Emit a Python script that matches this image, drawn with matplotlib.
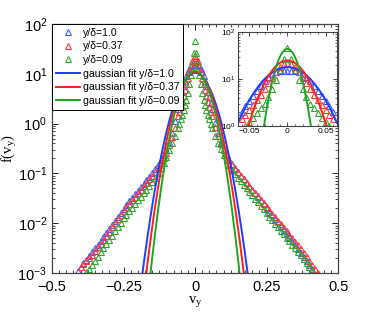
import numpy as np
import matplotlib
matplotlib.use("Agg")
import matplotlib.pyplot as plt
from matplotlib.ticker import FixedLocator, MultipleLocator, LogLocator, NullFormatter, FuncFormatter

plt.rcParams['font.family'] = ['Liberation Sans', 'DejaVu Sans']
plt.rcParams['mathtext.fontset'] = 'custom'
plt.rcParams['mathtext.rm'] = 'Liberation Serif'
plt.rcParams['mathtext.it'] = 'Liberation Serif:italic'

nan = np.nan

# bin centres of v_y
V = [-0.42, -0.41, -0.40, -0.39, -0.38, -0.37, -0.36, -0.35, -0.34, -0.33,
     -0.32, -0.31, -0.30, -0.29, -0.28, -0.27, -0.26, -0.25, -0.24, -0.23,
     -0.22, -0.21, -0.20, -0.19, -0.18, -0.17, -0.16, -0.15, -0.14, -0.13,
     -0.12, -0.11, -0.10, -0.09, -0.08, -0.07,
     -0.06, -0.055, -0.05, -0.045, -0.04, -0.035, -0.03, -0.025, -0.02, -0.015,
     -0.01, -0.005, 0.0, 0.005, 0.01, 0.015, 0.02, 0.025, 0.03, 0.035,
     0.04, 0.045, 0.05, 0.055, 0.06,
     0.07, 0.08, 0.09, 0.10, 0.11, 0.12, 0.13, 0.14, 0.15, 0.16,
     0.17, 0.18, 0.19, 0.20, 0.21, 0.22, 0.23, 0.24, 0.25, 0.26,
     0.27, 0.28, 0.29, 0.30, 0.31, 0.32, 0.33, 0.34, 0.35, 0.36,
     0.37, 0.38, 0.39, 0.40, 0.41, 0.42, 0.43]

# log10 f(v_y)
LOG_F_10 = [nan, -2.95, -2.88, -2.80, -2.74, -2.66, -2.58, -2.50, -2.43, -2.36,
            -2.27, -2.20, -2.12, -2.03, -1.95, -1.87, -1.79, -1.71, -1.63, -1.56,
            -1.49, -1.42, -1.35, -1.28, -1.21, -1.14, -1.07, -1.00, -0.92, -0.83,
            -0.74, -0.64, -0.52, -0.36, -0.18, 0.05,
            0.30, 0.42, 0.53, 0.64, 0.75, 0.86, 0.96, 1.04, 1.10, 1.15,
            1.17, 1.18, 1.18, 1.18, 1.17, 1.15, 1.10, 1.04, 0.96, 0.86,
            0.75, 0.64, 0.53, 0.42, 0.30,
            0.02, -0.18, -0.36, -0.51, -0.63, -0.73, -0.82, -0.90, -0.98, -1.05,
            -1.12, -1.19, -1.26, -1.33, -1.40, -1.47, -1.54, -1.62, -1.70, -1.77,
            -1.84, -1.91, -1.98, -2.05, -2.13, -2.20, -2.28, -2.36, -2.44, -2.52,
            -2.60, -2.68, -2.76, -2.84, -2.92, nan, nan]

LOG_F_037 = [nan, nan, -2.88, -2.82, -2.76, -2.70, -2.63, -2.55, -2.48, -2.41,
             -2.33, -2.25, -2.17, -2.08, -2.00, -1.92, -1.84, -1.76, -1.68, -1.61,
             -1.54, -1.47, -1.40, -1.33, -1.26, -1.19, -1.12, -1.05, -0.97, -0.88,
             -0.79, -0.69, -0.58, -0.43, -0.26, -0.08,
             0.15, 0.24, 0.34, 0.44, 0.55, 0.67, 0.80, 0.92, 1.03, 1.15,
             1.25, 1.32, 1.35, 1.32, 1.25, 1.15, 1.03, 0.92, 0.80, 0.67,
             0.55, 0.44, 0.34, 0.24, 0.15,
             -0.06, -0.24, -0.40, -0.53, -0.64, -0.74, -0.83, -0.91, -0.98, -1.05,
             -1.12, -1.19, -1.26, -1.33, -1.40, -1.46, -1.53, -1.60, -1.67, -1.74,
             -1.81, -1.88, -1.95, -2.02, -2.09, -2.16, -2.23, -2.30, -2.37, -2.44,
             -2.52, -2.60, -2.68, -2.76, -2.84, -2.92, -2.99]

LOG_F_009 = [nan, nan, nan, nan, -2.98, -2.92, -2.84, -2.75, -2.67, -2.58,
             -2.50, -2.42, -2.33, -2.25, -2.16, -2.07, -1.99, -1.90, -1.83, -1.76,
             -1.69, -1.61, -1.54, -1.47, -1.40, -1.33, -1.26, -1.18, -1.10, -1.00,
             -0.90, -0.79, -0.67, -0.53, -0.39, -0.24,
             -0.08, 0.00, 0.09, 0.18, 0.28, 0.38, 0.48, 0.62, 0.80, 0.98,
             1.20, 1.42, 1.66, 1.42, 1.20, 0.98, 0.80, 0.62, 0.48, 0.38,
             0.28, 0.18, 0.09, 0.00, -0.08,
             -0.24, -0.38, -0.51, -0.63, -0.74, -0.84, -0.93, -1.01, -1.09, -1.16,
             -1.23, -1.30, -1.37, -1.44, -1.51, -1.58, -1.65, -1.72, -1.80, -1.87,
             -1.94, -2.01, -2.08, -2.15, -2.22, -2.29, -2.36, -2.43, -2.50, -2.57,
             -2.64, -2.72, -2.80, -2.88, -2.96, nan, nan]

LABELS = ['y/\u03b4=1.0', 'y/\u03b4=0.37', 'y/\u03b4=0.09']
MARKER_COLORS = ['#3a5cff', '#ff3a3a', '#2fa82f']
LINE_COLORS = ['#1f3cff', '#ff1f1f', '#1fa51f']

# gaussian fits: amplitude, sigma
FIT_AMP = [10.5, 11.0, 11.5]
FIT_SIG = [0.0427, 0.0395, 0.036]
# core fits shown in the inset
FIT_AMP_IN = [18.0, 25.0, 44.0]
FIT_SIG_IN = [0.0278, 0.0202, 0.0112]

v = np.array(V)
series = [10 ** np.array(s) for s in (LOG_F_10, LOG_F_037, LOG_F_009)]
vfit = np.linspace(-0.5, 0.5, 1001)


def gauss(x, a, s):
    return a * np.exp(-x ** 2 / (2 * s ** 2))


def fmt(x, p):
    return ('%g' % x).replace('-', '\u2212')


fig = plt.figure(figsize=(3.74, 3.16), dpi=100)
ax = fig.add_axes([0.139, 0.136, 0.765, 0.788])

hm = []
for f, c, lab in zip(series, MARKER_COLORS, LABELS):
    h, = ax.plot(v, f, ls='none', marker='^', ms=4.5, mfc='none', mec=c, mew=0.8, label=lab)
    hm.append(h)
hl = []
for a, s, c, lab in zip(FIT_AMP, FIT_SIG, LINE_COLORS, LABELS):
    h, = ax.plot(vfit, gauss(vfit, a, s), color=c, lw=1.4, label='gaussian fit ' + lab)
    hl.append(h)

ax.set_yscale('log')
ax.set_xlim(-0.5, 0.5)
ax.set_ylim(1e-3, 1e2)
ax.xaxis.set_major_locator(FixedLocator([-0.5, -0.25, 0, 0.25, 0.5]))
ax.xaxis.set_major_formatter(FuncFormatter(fmt))
ax.xaxis.set_minor_locator(MultipleLocator(0.025))
ax.yaxis.set_minor_locator(LogLocator(base=10, subs=np.arange(2, 10), numticks=20))
ax.yaxis.set_minor_formatter(NullFormatter())
ax.tick_params(which='both', direction='in', top=True, right=True, labelsize=10.5)
ax.tick_params(which='major', length=4, width=0.6)
ax.tick_params(which='minor', length=2, width=0.5)
ax.tick_params(axis='x', which='major', pad=5)
for sp in ax.spines.values():
    sp.set_linewidth(0.9)
    sp.set_color('#444444')

ax.set_xlabel('v$_\\mathrm{y}$', fontfamily='Liberation Serif', fontsize=10.5, labelpad=0)
ax.set_ylabel('f(v$_\\mathrm{y}$)', fontfamily='Liberation Serif', fontsize=10.5)
ax.yaxis.set_label_coords(-0.115, 0.5)

leg = ax.legend(handles=hm + hl, loc='upper left', borderaxespad=0, fontsize=7.6,
                fancybox=False, edgecolor='black', framealpha=1, handlelength=2.3,
                handletextpad=0.3, labelspacing=0.35, borderpad=0.35)
leg.get_frame().set_linewidth(0.7)

# inset
axi = fig.add_axes([0.636, 0.601, 0.265, 0.297])
for f, c in zip(series, MARKER_COLORS):
    axi.plot(v, f, ls='none', marker='^', ms=4.5, mfc='none', mec=c, mew=0.8)
for a, s, c in zip(FIT_AMP_IN, FIT_SIG_IN, LINE_COLORS):
    axi.plot(vfit, gauss(vfit, a, s), color=c, lw=1.4)
axi.set_yscale('log')
axi.set_xlim(-0.065, 0.065)
axi.set_ylim(1, 1e2)
axi.xaxis.set_major_locator(FixedLocator([-0.05, 0, 0.05]))
axi.xaxis.set_major_formatter(FuncFormatter(fmt))
axi.xaxis.set_minor_locator(MultipleLocator(0.01))
axi.yaxis.set_minor_locator(LogLocator(base=10, subs=np.arange(2, 10), numticks=20))
axi.yaxis.set_minor_formatter(NullFormatter())
axi.tick_params(which='both', direction='in', top=True, right=True, labelsize=6, pad=1.5)
axi.tick_params(which='major', length=3, width=0.5)
axi.tick_params(which='minor', length=1.5, width=0.4)
for sp in axi.spines.values():
    sp.set_linewidth(0.8)
    sp.set_color('#444444')

fig.savefig('out.png', dpi=100)
